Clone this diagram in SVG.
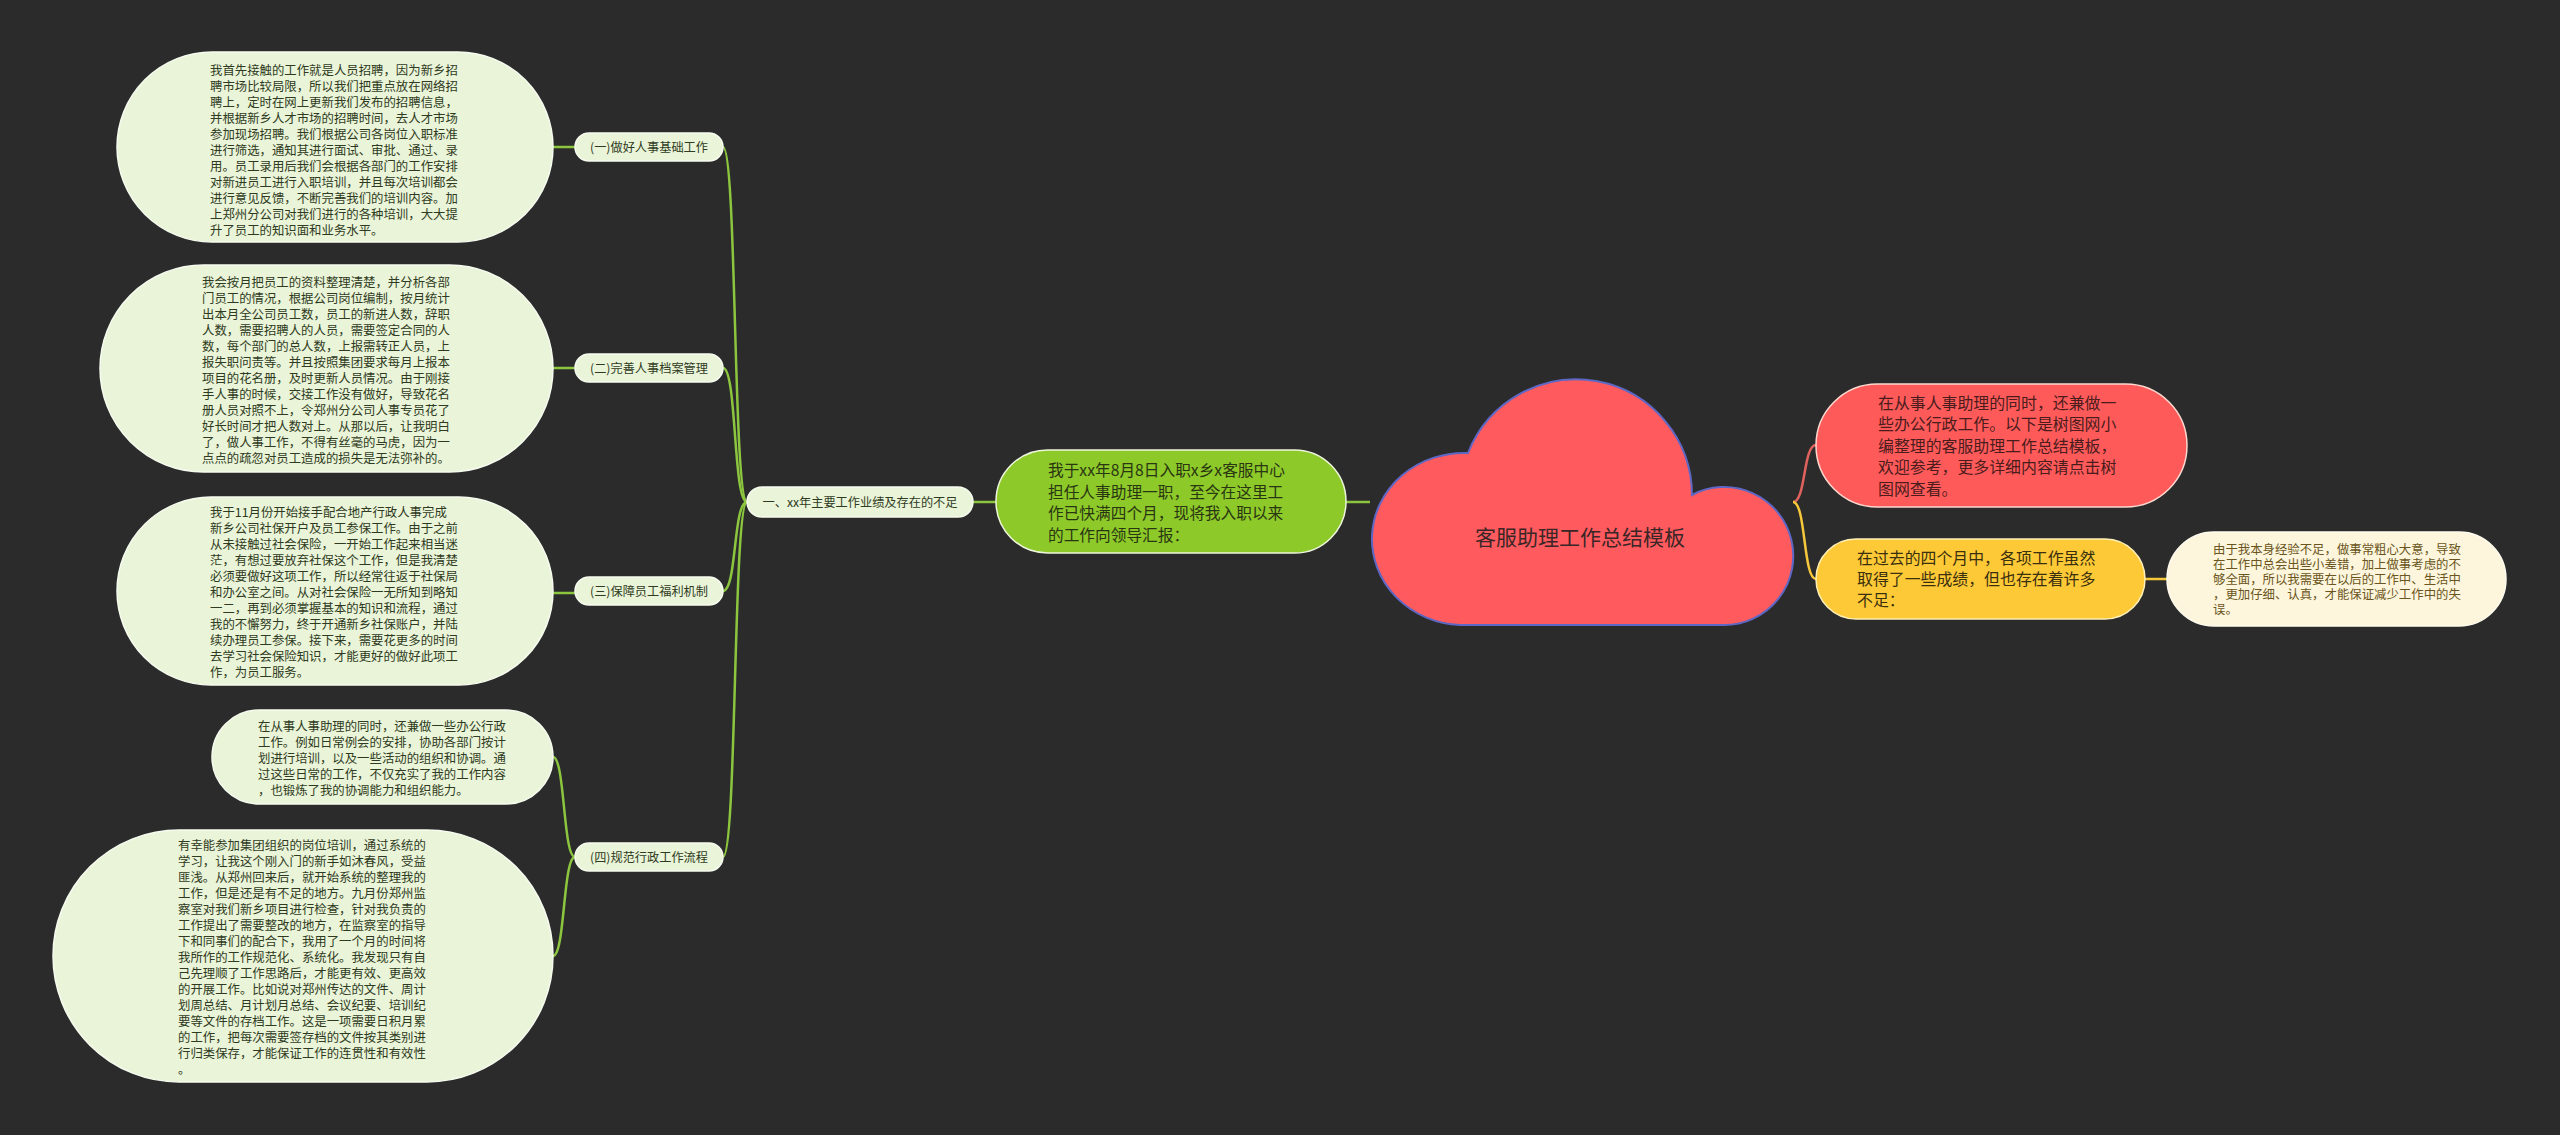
<svg xmlns="http://www.w3.org/2000/svg" width="2560" height="1135" viewBox="0 0 2560 1135">
<style>
text{font-family:"Noto Sans CJK SC","Noto Sans",sans-serif;}
.leaf{fill:#e9f4d8;stroke:#f6fbef;stroke-width:1.5;}
.lt{font-size:12.4px;fill:#2f3a22;}
.sub{fill:#e9f4d8;stroke:#f6fbef;stroke-width:1.5;}
.st{font-size:12.2px;fill:#2f3a22;text-anchor:middle;}
.g{fill:none;stroke:#8cc63f;stroke-width:2.5;}
.r{fill:none;stroke:#e0625e;stroke-width:2.5;}
.y{fill:none;stroke:#f5c73a;stroke-width:2.5;}
</style>
<rect width="2560" height="1135" fill="#2b2b2b"/>
<g id="connectors">
<path class="g" d="M553,147 L575,147"/>
<path class="g" d="M553,368 L575,368"/>
<path class="g" d="M553,593 L575,593"/>
<path class="g" d="M575,857 C563,857 565,757 553,757"/>
<path class="g" d="M575,857 C563,857 565,956 553,956"/>
<path class="g" d="M747,502 C733,502 737,147 723,147"/>
<path class="g" d="M747,502 C733,502 737,368 723,368"/>
<path class="g" d="M747,502 C733,502 737,591 723,591"/>
<path class="g" d="M747,502 C733,502 737,857 723,857"/>
<path class="g" d="M973,502 L996,502"/>
<path class="g" d="M1346,502 L1370,502"/>
<path class="r" d="M1793,502 C1806,502 1803,445 1816,445"/>
<path class="y" d="M1793,502 C1806,502 1803,579 1816,579"/>
<path class="y" d="M2145,579 L2167,579"/>
</g>
<g id="root">
<path d="M1460,625 A92 86 0 0 1 1468,453 A116 116 0 0 1 1692,495 A69 69 0 1 1 1724,625 Z" fill="#ff5a5e" stroke="#5d67c4" stroke-width="2"/>
<text x="1580" y="545" font-size="21" fill="#3a2626" text-anchor="middle">客服助理工作总结模板</text>
</g>
<g id="intro">
<rect x="996" y="450" width="350" height="103" rx="51.5" fill="#8cc929" stroke="#eef6dc" stroke-width="1.5"/>
<text font-size="15.7" fill="#2a3512"><tspan x="1048" y="476">我于xx年8月8日入职x乡x客服中心</tspan><tspan x="1048" y="498">担任人事助理一职，至今在这里工</tspan><tspan x="1048" y="519">作已快满四个月，现将我入职以来</tspan><tspan x="1048" y="541">的工作向领导汇报：</tspan></text>
</g>
<g id="main">
<rect x="747" y="487" width="226" height="30" rx="15" class="sub"/>
<text x="860" y="506.5" class="st">一、xx年主要工作业绩及存在的不足</text>
</g>
<g id="s1">
<rect x="575" y="133" width="148" height="28" rx="14" class="sub"/>
<text x="649" y="151.5" class="st">(一)做好人事基础工作</text>
</g>
<g id="s2">
<rect x="575" y="354" width="148" height="28" rx="14" class="sub"/>
<text x="649" y="372.5" class="st">(二)完善人事档案管理</text>
</g>
<g id="s3">
<rect x="575" y="577" width="148" height="28" rx="14" class="sub"/>
<text x="649" y="595.5" class="st">(三)保障员工福利机制</text>
</g>
<g id="s4">
<rect x="575" y="843" width="148" height="28" rx="14" class="sub"/>
<text x="649" y="861.5" class="st">(四)规范行政工作流程</text>
</g>
<g id="l1">
<rect x="117" y="52" width="436" height="190" rx="95" class="leaf"/>
<text class="lt"><tspan x="210" y="74.5">我首先接触的工作就是人员招聘，因为新乡招</tspan><tspan x="210" y="90.5">聘市场比较局限，所以我们把重点放在网络招</tspan><tspan x="210" y="106.5">聘上，定时在网上更新我们发布的招聘信息，</tspan><tspan x="210" y="122.5">并根据新乡人才市场的招聘时间，去人才市场</tspan><tspan x="210" y="138.5">参加现场招聘。我们根据公司各岗位入职标准</tspan><tspan x="210" y="154.5">进行筛选，通知其进行面试、审批、通过、录</tspan><tspan x="210" y="170.5">用。员工录用后我们会根据各部门的工作安排</tspan><tspan x="210" y="186.5">对新进员工进行入职培训，并且每次培训都会</tspan><tspan x="210" y="202.5">进行意见反馈，不断完善我们的培训内容。加</tspan><tspan x="210" y="218.5">上郑州分公司对我们进行的各种培训，大大提</tspan><tspan x="210" y="234.5">升了员工的知识面和业务水平。</tspan></text>
</g>
<g id="l2">
<rect x="100" y="265" width="453" height="207" rx="103.5" class="leaf"/>
<text class="lt"><tspan x="202" y="286.5">我会按月把员工的资料整理清楚，并分析各部</tspan><tspan x="202" y="302.5">门员工的情况，根据公司岗位编制，按月统计</tspan><tspan x="202" y="318.5">出本月全公司员工数，员工的新进人数，辞职</tspan><tspan x="202" y="334.5">人数，需要招聘人的人员，需要签定合同的人</tspan><tspan x="202" y="350.5">数，每个部门的总人数，上报需转正人员，上</tspan><tspan x="202" y="366.5">报失职问责等。并且按照集团要求每月上报本</tspan><tspan x="202" y="382.5">项目的花名册，及时更新人员情况。由于刚接</tspan><tspan x="202" y="398.5">手人事的时候，交接工作没有做好，导致花名</tspan><tspan x="202" y="414.5">册人员对照不上，令郑州分公司人事专员花了</tspan><tspan x="202" y="430.5">好长时间才把人数对上。从那以后，让我明白</tspan><tspan x="202" y="446.5">了，做人事工作，不得有丝毫的马虎，因为一</tspan><tspan x="202" y="462.5">点点的疏忽对员工造成的损失是无法弥补的。</tspan></text>
</g>
<g id="l3">
<rect x="117" y="497" width="436" height="188" rx="94" class="leaf"/>
<text class="lt"><tspan x="210" y="516.5">我于11月份开始接手配合地产行政人事完成</tspan><tspan x="210" y="532.5">新乡公司社保开户及员工参保工作。由于之前</tspan><tspan x="210" y="548.5">从未接触过社会保险，一开始工作起来相当迷</tspan><tspan x="210" y="564.5">茫，有想过要放弃社保这个工作，但是我清楚</tspan><tspan x="210" y="580.5">必须要做好这项工作，所以经常往返于社保局</tspan><tspan x="210" y="596.5">和办公室之间。从对社会保险一无所知到略知</tspan><tspan x="210" y="612.5">一二，再到必须掌握基本的知识和流程，通过</tspan><tspan x="210" y="628.5">我的不懈努力，终于开通新乡社保账户，并陆</tspan><tspan x="210" y="644.5">续办理员工参保。接下来，需要花更多的时间</tspan><tspan x="210" y="660.5">去学习社会保险知识，才能更好的做好此项工</tspan><tspan x="210" y="676.5">作，为员工服务。</tspan></text>
</g>
<g id="l4">
<rect x="212" y="710" width="341" height="94" rx="47" class="leaf"/>
<text class="lt"><tspan x="258" y="730.5">在从事人事助理的同时，还兼做一些办公行政</tspan><tspan x="258" y="746.5">工作。例如日常例会的安排，协助各部门按计</tspan><tspan x="258" y="762.5">划进行培训，以及一些活动的组织和协调。通</tspan><tspan x="258" y="778.5">过这些日常的工作，不仅充实了我的工作内容</tspan><tspan x="258" y="794.5">，也锻炼了我的协调能力和组织能力。</tspan></text>
</g>
<g id="l5">
<rect x="53" y="830" width="500" height="252" rx="126" class="leaf"/>
<text class="lt"><tspan x="178" y="849.5">有幸能参加集团组织的岗位培训，通过系统的</tspan><tspan x="178" y="865.5">学习，让我这个刚入门的新手如沐春风，受益</tspan><tspan x="178" y="881.5">匪浅。从郑州回来后，就开始系统的整理我的</tspan><tspan x="178" y="897.5">工作，但是还是有不足的地方。九月份郑州监</tspan><tspan x="178" y="913.5">察室对我们新乡项目进行检查，针对我负责的</tspan><tspan x="178" y="929.5">工作提出了需要整改的地方，在监察室的指导</tspan><tspan x="178" y="945.5">下和同事们的配合下，我用了一个月的时间将</tspan><tspan x="178" y="961.5">我所作的工作规范化、系统化。我发现只有自</tspan><tspan x="178" y="977.5">己先理顺了工作思路后，才能更有效、更高效</tspan><tspan x="178" y="993.5">的开展工作。比如说对郑州传达的文件、周计</tspan><tspan x="178" y="1009.5">划周总结、月计划月总结、会议纪要、培训纪</tspan><tspan x="178" y="1025.5">要等文件的存档工作。这是一项需要日积月累</tspan><tspan x="178" y="1041.5">的工作，把每次需要签存档的文件按其类别进</tspan><tspan x="178" y="1057.5">行归类保存，才能保证工作的连贯性和有效性</tspan><tspan x="178" y="1073.5">。</tspan></text>
</g>
<g id="r1">
<rect x="1816" y="384" width="371" height="123" rx="61.5" fill="#ff5a5a" stroke="#ffd8d0" stroke-width="1.5"/>
<text font-size="15.9" fill="#4a1c1c"><tspan x="1878" y="408.5">在从事人事助理的同时，还兼做一</tspan><tspan x="1878" y="430">些办公行政工作。以下是树图网小</tspan><tspan x="1878" y="451.5">编整理的客服助理工作总结模板，</tspan><tspan x="1878" y="473">欢迎参考，更多详细内容请点击树</tspan><tspan x="1878" y="494.5">图网查看。</tspan></text>
</g>
<g id="r2">
<rect x="1816" y="539" width="329" height="80" rx="40" fill="#fdc936" stroke="#fff0b8" stroke-width="1.5"/>
<text font-size="15.9" fill="#3a2f0e"><tspan x="1857" y="563.5">在过去的四个月中，各项工作虽然</tspan><tspan x="1857" y="584.5">取得了一些成绩，但也存在着许多</tspan><tspan x="1857" y="605.5">不足：</tspan></text>
</g>
<g id="r3">
<rect x="2167" y="532" width="339" height="94" rx="47" fill="#fdf6dc" stroke="#fffbee" stroke-width="1.5"/>
<text font-size="12.4" fill="#6a5420"><tspan x="2213" y="553.5">由于我本身经验不足，做事常粗心大意，导致</tspan><tspan x="2213" y="568.5">在工作中总会出些小差错，加上做事考虑的不</tspan><tspan x="2213" y="583.5">够全面，所以我需要在以后的工作中、生活中</tspan><tspan x="2213" y="598.5">，更加仔细、认真，才能保证减少工作中的失</tspan><tspan x="2213" y="613.5">误。</tspan></text>
</g>
</svg>
